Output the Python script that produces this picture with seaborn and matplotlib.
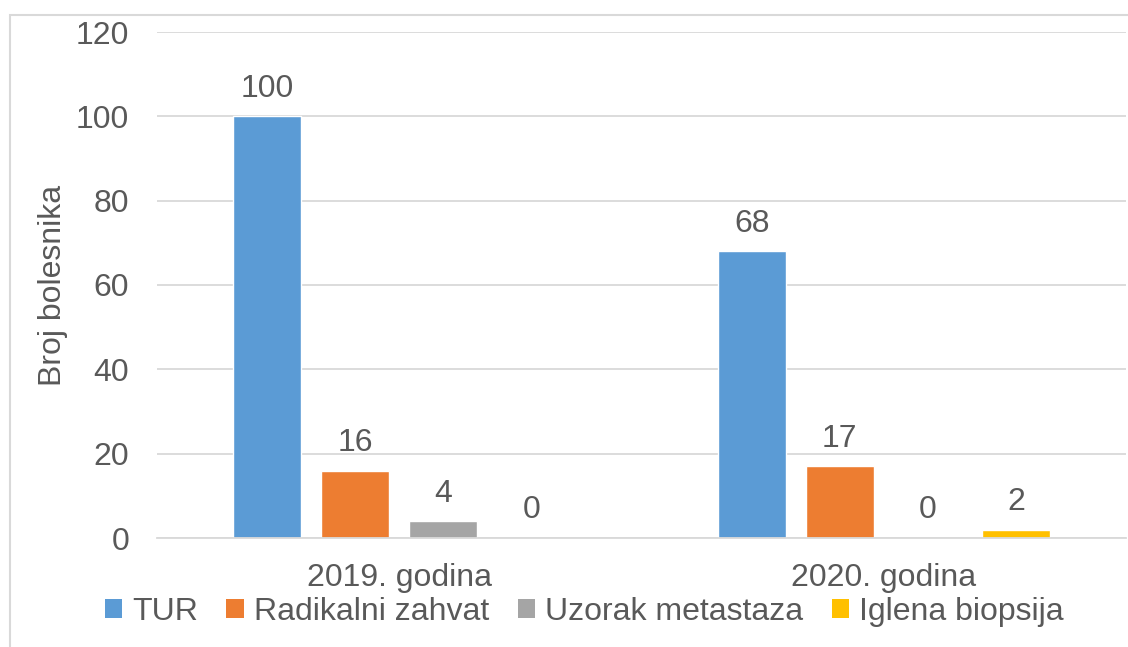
import pandas as pd
import matplotlib.pyplot as plt
import seaborn as sns
from matplotlib.patches import Rectangle, Patch

# chart values
years = ['2019. godina', '2020. godina']
types = ['TUR', 'Radikalni zahvat', 'Uzorak metastaza', 'Iglena biopsija']
tur = [100, 68]
radikalni = [16, 17]
uzorak = [4, 0]
iglena = [0, 2]
colors = ['#5B9BD5', '#ED7D31', '#A5A5A5', '#FFC000']

rows = []
for t, vals in zip(types, [tur, radikalni, uzorak, iglena]):
    for y, v in zip(years, vals):
        rows.append({'godina': y, 'tip': t, 'broj': v})
df = pd.DataFrame(rows)

sns.set_style('white')
plt.rcParams['font.family'] = ['Liberation Sans', 'DejaVu Sans']
text_col = '#595959'
fs = 23

fig = plt.figure(figsize=(11.28, 6.47), dpi=100)
ax = fig.add_axes([157 / 1128, 1 - 538 / 647, 969 / 1128, 506 / 647])

sns.barplot(data=df, x='godina', y='broj', hue='tip', hue_order=types,
            palette=colors, width=0.727, gap=0.227, ax=ax, legend=False,
            errorbar=None, saturation=1)

for c in ax.containers:
    ax.bar_label(c, padding=9, fontsize=fs, color=text_col)

ax.set_ylim(0, 120)
ax.set_yticks(range(0, 121, 20))
ax.set_xlim(-0.5, 1.5)
ax.grid(axis='y', color='#D9D9D9', linewidth=1.3)
ax.set_axisbelow(True)
for s in ['top', 'right', 'left']:
    ax.spines[s].set_visible(False)
ax.spines['bottom'].set_color('#D9D9D9')
ax.spines['bottom'].set_linewidth(1.3)
ax.tick_params(axis='both', length=0, labelsize=fs, colors=text_col)
ax.tick_params(axis='x', pad=18)
ax.tick_params(axis='y', pad=20)
ax.set_xlabel('')
ax.set_ylabel('Broj bolesnika', fontsize=fs, color=text_col)
ax.yaxis.set_label_coords(-0.092, 0.5)

handles = [Patch(facecolor=c, edgecolor='none') for c in colors]
fig.legend(handles, types, loc='center', bbox_to_anchor=(584 / 1128, 1 - 612 / 647),
           ncol=4, frameon=False, fontsize=fs, labelcolor=text_col,
           handlelength=0.55, handleheight=0.55, handletextpad=0.3, columnspacing=0.9)

# light outer frame like the original chart box
fig.patches.append(Rectangle((10 / 1128, -0.05), 1.1, 1 - 15 / 647 + 0.05,
                             transform=fig.transFigure, fill=False,
                             edgecolor='#D9D9D9', linewidth=1.5))

fig.savefig('out.png', dpi=100)
